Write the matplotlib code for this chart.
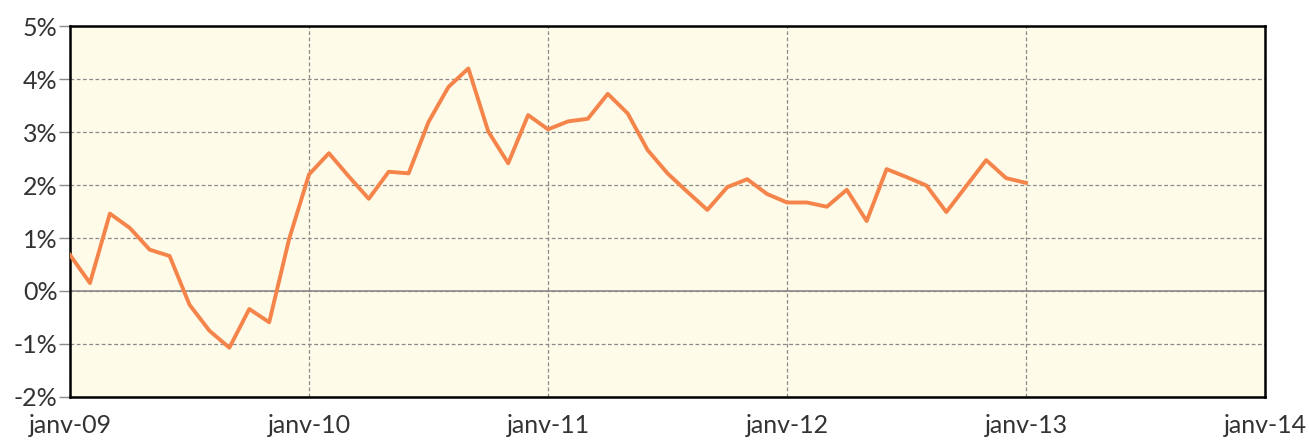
import numpy as np
import matplotlib
matplotlib.use("Agg")
import matplotlib.pyplot as plt
from matplotlib.ticker import FuncFormatter

# monthly values, janv-09 .. janv-13 (%)
values = [0.68, 0.15, 1.46, 1.19, 0.78, 0.66, -0.26, -0.75, -1.07, -0.34, -0.59, 0.98,
          2.20, 2.60, 2.16, 1.74, 2.25, 2.22, 3.19, 3.85, 4.20, 3.01, 2.41, 3.32,
          3.05, 3.20, 3.25, 3.72, 3.35, 2.66, 2.22, 1.87, 1.53, 1.96, 2.11, 1.83,
          1.67, 1.67, 1.59, 1.91, 1.32, 2.30, 2.15, 1.99, 1.49, 1.98, 2.47, 2.13,
          2.04]
year_labels = ["janv-09", "janv-10", "janv-11", "janv-12", "janv-13", "janv-14"]

plt.rcParams['font.family'] = ['Lato', 'DejaVu Sans']

fig = plt.figure(figsize=(13.09, 4.41), dpi=100)
ax = fig.add_axes([0.0535, 0.0998, 0.9129, 0.8412])
ax.set_facecolor("#FEFBE8")

months = np.arange(len(values))
ax.plot(months, values, color="#F4844A", lw=2.8, zorder=3)

ax.set_xlim(0, 60)
ax.set_ylim(-2, 5)
ax.set_xticks(np.arange(0, 61, 12))
ax.set_xticklabels(year_labels)
ax.set_yticks(np.arange(-2, 6, 1))
ax.yaxis.set_major_formatter(FuncFormatter(lambda v, p: "%d%%" % v))

ax.grid(True, color="#8a8a8a", ls=(0, (3, 2)), lw=0.9, zorder=1)
ax.axhline(0, color="#8a8a8a", lw=1.2, zorder=2)

for s in ax.spines.values():
    s.set_color("black")
    s.set_linewidth(1.8)

ax.tick_params(axis="y", length=8, width=1, color="#8a8a8a", labelsize=18,
               labelcolor="#333333", pad=1)
ax.tick_params(axis="x", length=0, labelsize=18, labelcolor="#333333", pad=12)

fig.savefig("out.png", dpi=100)
